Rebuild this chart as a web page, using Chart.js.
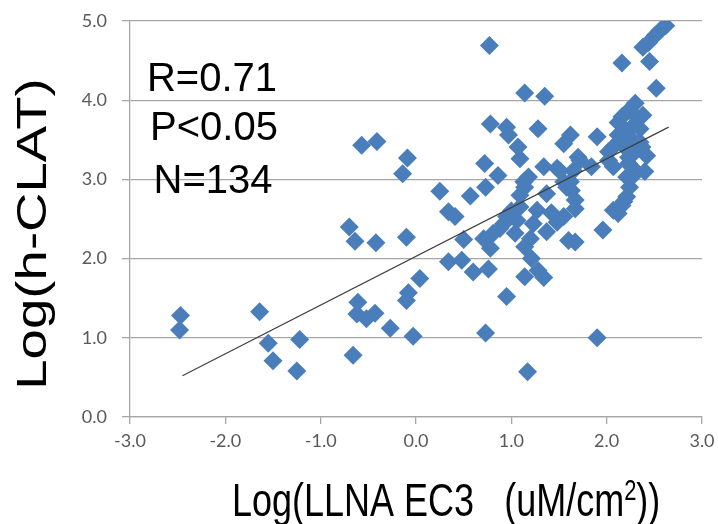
<!DOCTYPE html>
<html>
<head>
<meta charset="utf-8">
<script src="https://cdn.jsdelivr.net/npm/chart.js@4.4.1/dist/chart.umd.min.js"></script>
<style>
  html, body { margin: 0; padding: 0; background: #fff; }
  #wrap { width: 718px; height: 524px; }
</style>
</head>
<body>
<div id="wrap"><canvas id="clatChart"></canvas></div>
<script>
// axis ticks
const xTicks = [-3, -2, -1, 0, 1, 2, 3];
const yTicks = [0, 1, 2, 3, 4, 5];

// Log(LLNA EC3) values
const llnaX = [
  -2.47, -2.48, -1.64, -1.55, -1.50, -1.22, -1.25,
  -0.57, -0.41, -0.09, -0.14, -0.70, -0.64, -0.42, -0.10, -0.61, -0.62, -0.52, -0.43, -0.27,
  -0.66, -0.03, -0.10, -0.08, 0.04,
  0.25, 0.57, 0.34, 0.41, 0.50, 0.34, 0.48, 0.60, 0.76, 0.71, 0.78, 0.81, 0.95, 0.92,
  0.77, 0.78, 0.95, 0.97, 0.72, 0.86, 0.73, 0.95, 0.73,
  1.14, 1.35, 1.28, 1.07, 1.09, 1.55, 1.34, 1.48, 1.18, 1.14, 1.58, 1.37, 1.09, 1.06,
  1.09, 1.04, 1.14, 1.21, 1.28, 1.14, 1.34, 1.23, 1.37, 1.48, 1.27, 1.60, 1.17, 1.13,
  1.55, 1.51, 1.62, 1.63,
  1.62, 1.70, 1.72, 1.65, 1.84, 1.90, 2.02, 2.07, 2.23, 2.26, 2.21, 2.24, 2.21, 2.16,
  2.12, 2.07, 1.67, 1.67, 1.55, 1.96, 1.67, 1.90,
  2.62, 2.56, 2.51, 2.44, 2.38, 2.16, 2.45, 2.52, 2.30, 2.23, 2.16, 2.12, 2.31, 2.38,
  2.28, 2.35, 2.21, 2.12, 2.25, 2.35, 2.37, 2.17, 2.07, 2.02, 2.30, 2.23,
  1.00, 0.88, 1.20, 2.28, 2.18, 1.42, 2.42, 2.40
];
// Log(h-CLAT) values, same order
const hclatY = [
  1.28, 1.10, 1.33, 0.93, 0.71, 0.98, 0.58,
  3.43, 3.48, 3.27, 3.07, 2.40, 2.22, 2.20, 2.27, 1.45, 1.30, 1.24, 1.31, 1.12,
  0.78, 1.02, 1.47, 1.57, 1.75,
  2.85, 2.79, 2.59, 2.53, 2.24, 1.96, 1.98, 1.83, 1.87, 2.25, 2.13, 2.32, 2.53, 2.44,
  4.69, 3.70, 3.66, 3.56, 3.20, 3.05, 2.90, 1.52, 1.06,
  4.09, 4.05, 3.64, 3.41, 3.26, 3.45, 3.16, 3.14, 3.03, 2.90, 2.90, 2.82, 2.80, 2.48,
  2.65, 2.32, 2.15, 2.00, 1.85, 1.77, 1.76, 2.44, 2.34, 2.46, 2.61, 2.23, 0.57, 2.97,
  2.97, 3.11, 2.97, 2.86,
  3.56, 3.28, 3.24, 3.11, 3.16, 3.54, 3.24, 3.16, 3.28, 3.16, 3.03, 2.90, 2.78, 2.67,
  2.57, 2.61, 2.74, 2.63, 2.53, 2.36, 2.21, 1.00,
  4.94, 4.88, 4.82, 4.73, 4.67, 4.47, 4.49, 4.15, 3.96, 3.87, 3.79, 3.72, 3.79, 3.81,
  3.68, 3.64, 3.60, 3.56, 3.52, 3.47, 3.41, 3.43, 3.41, 3.35, 3.35, 3.20,
  2.60, 2.38, 2.25, 3.05, 2.72, 2.58, 3.30, 3.10
];

// regression line ends
const trendX = [-2.45, 2.65];
const trendY = [0.52, 3.66];

const statLines = ['R=0.71', 'P<0.05', 'N=134'];
const yTitle = 'Log(h-CLAT)';
const xTitleParts = ['Log(LLNA EC3   (uM/cm', '2', '))'];

const points = llnaX.map((x, i) => ({ x: x, y: hclatY[i] }));
const trend = trendX.map((x, i) => ({ x: x, y: trendY[i] }));

// titles and the R/P/N box, drawn on top
const textPlugin = {
  id: 'textPlugin',
  afterDraw(chart) {
    const ctx = chart.ctx;
    ctx.save();
    ctx.fillStyle = '#000';

    // stats
    ctx.font = '40px "Liberation Sans", Arial, sans-serif';
    ctx.textAlign = 'center';
    ctx.textBaseline = 'alphabetic';
    ctx.fillText(statLines[0], 212, 91);
    ctx.fillText(statLines[1], 214, 140);
    ctx.fillText(statLines[2], 213, 193);

    // y title, stretched along its length
    ctx.save();
    ctx.translate(46, 234);
    ctx.rotate(-Math.PI / 2);
    ctx.scale(1.3, 1);
    ctx.font = '42px "Liberation Sans", Arial, sans-serif';
    ctx.textAlign = 'center';
    ctx.fillText(yTitle, 0, 0);
    ctx.restore();

    // x title, stretched vertically
    ctx.save();
    ctx.translate(232, 516);
    ctx.scale(1, 1.3);
    ctx.textAlign = 'left';
    ctx.font = '36px "Liberation Sans", Arial, sans-serif';
    let w = ctx.measureText(xTitleParts[0]).width;
    ctx.fillText(xTitleParts[0], 0, 0);
    ctx.font = '22px "Liberation Sans", Arial, sans-serif';
    ctx.fillText(xTitleParts[1], w, -12);
    w += ctx.measureText(xTitleParts[1]).width;
    ctx.font = '36px "Liberation Sans", Arial, sans-serif';
    ctx.fillText(xTitleParts[2], w, 0);
    ctx.restore();

    ctx.restore();
  }
};

const ctx = document.getElementById('clatChart').getContext('2d');
const clatChart = new Chart(ctx, {
  type: 'scatter',
  data: {
    datasets: [
      {
        label: 'trend',
        type: 'line',
        data: trend,
        borderColor: '#404040',
        borderWidth: 1.2,
        pointRadius: 0,
        fill: false,
        order: 0
      },
      {
        label: 'h-CLAT vs LLNA',
        data: points,
        pointStyle: 'rectRot',
        pointRadius: 9.5,
        pointHoverRadius: 9.5,
        backgroundColor: '#4A7EBB',
        borderColor: '#4A7EBB',
        borderWidth: 0,
        order: 1
      }
    ]
  },
  options: {
    responsive: true,
    maintainAspectRatio: false,
    animation: false,
    events: [],
    layout: { padding: { left: 0, right: 16, top: 21, bottom: 0 } },
    plugins: {
      legend: { display: false },
      tooltip: { enabled: false }
    },
    scales: {
      x: {
        type: 'linear',
        min: -3,
        max: 3,
        afterBuildTicks: s => { s.ticks = xTicks.map(v => ({ value: v })); },
        afterFit: s => { s.height = 107; s.paddingLeft = 0; s.paddingRight = 0; },
        grid: { drawOnChartArea: false, drawTicks: true, tickLength: 7, color: '#A6A6A6', lineWidth: 1.3 },
        border: { display: true, color: '#A6A6A6', width: 1.3 },
        ticks: {
          padding: 6,
          color: '#595959',
          font: { family: 'Lato', size: 18 },
          callback: v => v.toFixed(1)
        }
      },
      y: {
        type: 'linear',
        min: 0,
        max: 5,
        afterBuildTicks: s => { s.ticks = yTicks.map(v => ({ value: v })); },
        afterFit: s => { s.width = 130; s.paddingTop = 0; s.paddingBottom = 0; },
        grid: { drawOnChartArea: true, drawTicks: true, tickLength: 8, color: '#A6A6A6', lineWidth: 1.3 },
        border: { display: true, color: '#A6A6A6', width: 1.3 },
        ticks: {
          padding: 15,
          color: '#595959',
          font: { family: 'Lato', size: 18 },
          callback: v => v.toFixed(1)
        }
      }
    }
  },
  plugins: [textPlugin]
});
</script>
</body>
</html>
